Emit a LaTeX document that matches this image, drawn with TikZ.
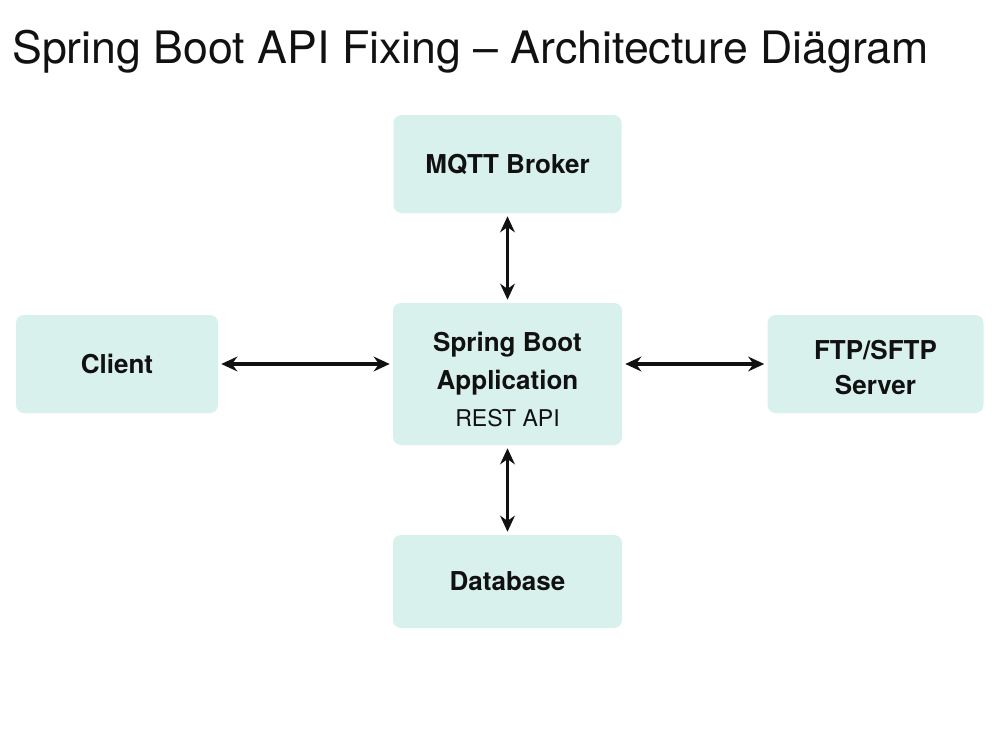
\documentclass[tikz,border=0pt]{standalone}
\usepackage{fontspec}
\setmainfont{TeX Gyre Heros}
\usetikzlibrary{arrows.meta}
\definecolor{boxfill}{RGB}{217,241,236}
\definecolor{ink}{RGB}{17,17,17}
\begin{document}
\begin{tikzpicture}[x=0.75pt,y=-0.75pt,
  box/.style={fill=boxfill, draw=none, rounded corners=6pt, align=center,
    text=ink, font=\bfseries\fontsize{19.5pt}{28.5pt}\selectfont, inner sep=0pt},
  lbl/.style={align=center, text=ink, inner sep=0pt,
    font=\bfseries\fontsize{19.5pt}{28.5pt}\selectfont},
  link/.style={{Stealth[length=12pt,width=11pt]}-{Stealth[length=12pt,width=11pt]},
    line width=2.8pt, draw=ink, shorten <=2.25pt, shorten >=2.25pt}]
\useasboundingbox (0,0) rectangle (1000,750);
\node[anchor=base west, text=ink, font=\fontsize{33.5pt}{40pt}\selectfont, inner sep=0pt]
  (title) at (12,63) {Spring Boot API Fixing – Architecture Diägram};
\node[box, minimum width=171pt, minimum height=73.5pt] (mqtt) at (507.5,164) {MQTT Broker};
\node[box, minimum width=171.75pt, minimum height=106.5pt] (spring) at (507.5,374) {};
\node[lbl] (springtxt) at (507.5,379.5)
  {Spring Boot\\Application\\[-1pt]{\mdseries\fontsize{17.3pt}{20pt}\selectfont REST API}};
\node[box, minimum width=171.75pt, minimum height=69.75pt] (db) at (507.5,581.5) {Database};
\node[box, minimum width=151.5pt, minimum height=73.5pt] (client) at (117,364) {Client};
\node[box, minimum width=162pt, minimum height=73.5pt] (ftp) at (875.5,364) {};
\node[lbl, font=\bfseries\fontsize{19.5pt}{26.5pt}\selectfont] (ftptxt) at (875.5,367.5) {FTP/SFTP\\Server};
\draw[link] (mqtt) -- (spring);
\draw[link] (spring) -- (db);
\draw[link] (client) -- (client -| spring.west);
\draw[link] (spring.east |- ftp) -- (ftp);
\end{tikzpicture}
\end{document}
